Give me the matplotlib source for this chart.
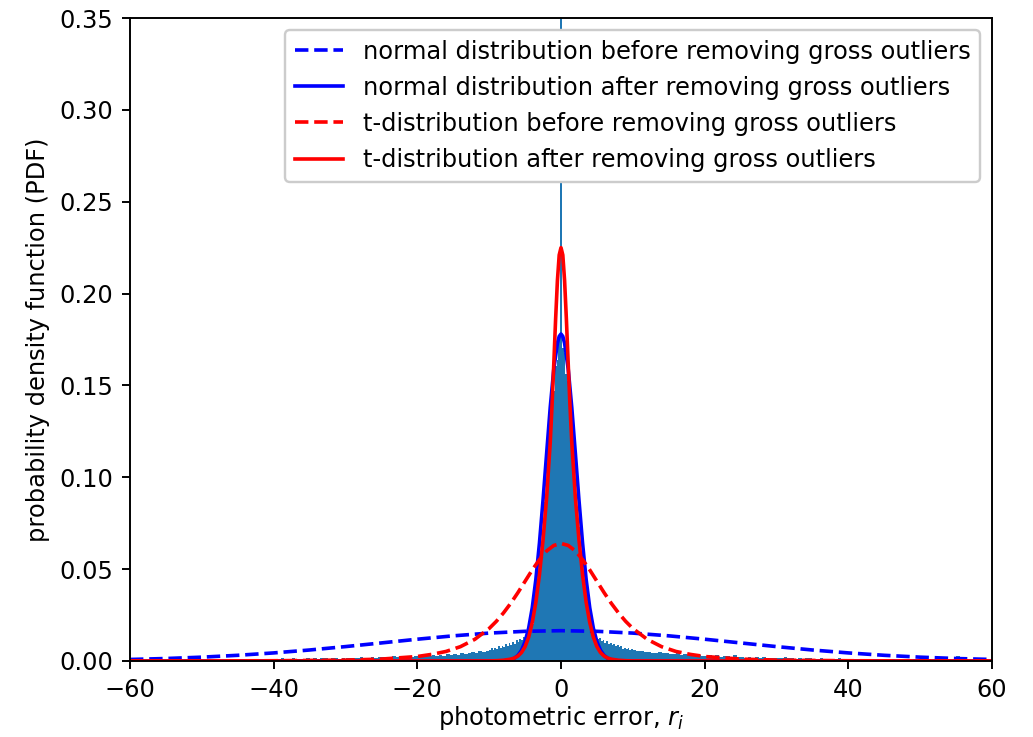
import numpy as np
import matplotlib
matplotlib.use("Agg")
from matplotlib import pyplot as plt

# histogram of photometric errors (density), bins
# tails: 0.5 wide bins from -60 to -10 and 10 to 60, heights in units of 1e-4
tail_left_e4 = [5, 7, 4, 6, 8, 5, 6, 3, 7, 6,
                7, 5, 8, 6, 4, 9, 7, 6, 8, 5,
                8, 6, 9, 7, 10, 5, 8, 9, 6, 11,
                9, 12, 7, 10, 8, 11, 13, 9, 10, 12,
                11, 9, 14, 12, 10, 15, 11, 13, 12, 16,
                13, 15, 11, 17, 14, 12, 18, 15, 13, 16,
                17, 14, 19, 16, 21, 15, 18, 22, 17, 20,
                20, 23, 18, 25, 21, 19, 26, 22, 24, 28,
                27, 24, 30, 26, 33, 29, 31, 28, 36, 33,
                38, 35, 42, 39, 44, 47, 41, 52, 49, 56]
tail_right_e4 = [58, 52, 55, 48, 50, 46, 43, 47, 41, 44,
                 40, 37, 42, 35, 38, 33, 36, 31, 34, 29,
                 28, 32, 26, 30, 24, 27, 25, 23, 32, 22,
                 21, 19, 23, 18, 20, 17, 22, 19, 16, 18,
                 17, 15, 20, 16, 14, 13, 17, 12, 15, 14,
                 13, 12, 14, 11, 13, 10, 12, 14, 11, 10,
                 11, 9, 12, 10, 8, 11, 9, 10, 12, 8,
                 9, 8, 10, 7, 9, 11, 8, 7, 9, 8,
                 8, 7, 9, 6, 8, 7, 10, 6, 8, 7,
                 28, 7, 6, 8, 5, 7, 6, 9, 5, 7]
# centre: 81 bins between -10 and 10 (spike bin in the middle)
centre = [.0058, .0069, .0061, .0073, .0066, .0079, .0071, .0083, .0076, .0090,
          .0082, .0097, .0088, .0104, .0095, .0112, .0103, .0121, .0114, .0131,
          .0128, .0152, .0151, .0189, .0204, .0266, .0297, .0405, .0462, .0612,
          .0690, .0865, .0948, .1138, .1221, .1408, .1472, .1605, .1638, .1745,
          .62,
          .1702, .1679, .1561, .1523, .1356, .1274, .1089, .0993, .0821, .0728,
          .0571, .0497, .0378, .0322, .0248, .0223, .0172, .0166, .0139, .0142,
          .0119, .0127, .0110, .0116, .0099, .0107, .0092, .0099, .0086, .0091,
          .0080, .0085, .0074, .0079, .0068, .0073, .0064, .0069, .0060, .0065]

# fitted curves
x_norm_before = [-60, -55, -50, -45, -40, -35, -30, -25, -20, -15, -10, -5, 0,
                 5, 10, 15, 20, 25, 30, 35, 40, 45, 50, 55, 60]
y_norm_before = [.00084, .00135, .00209, .0031, .0044, .00599, .00784, .00984, .01186, .0137, .01519, .01616, .0165,
                 .01616, .01519, .0137, .01186, .00984, .00784, .00599, .0044, .0031, .00209, .00135, .00084]

x_norm_after = [-60, -10, -8, -7, -6.5, -6, -5.5, -5, -4.5, -4, -3.5, -3, -2.5, -2, -1.5, -1, -0.5, -0.25, 0,
                0.25, 0.5, 1, 1.5, 2, 2.5, 3, 3.5, 4, 4.5, 5, 5.5, 6, 6.5, 7, 8, 10, 60]
y_norm_after = [0, 0, .0001, .0007, .0015, .0030, .0058, .0105, .0179, .0290, .0444, .0642, .0876, .113, .138, .159, .173, .1767, .178,
                .1767, .173, .159, .138, .113, .0876, .0642, .0444, .0290, .0179, .0105, .0058, .0030, .0015, .0007, .0001, 0, 0]

x_t_before = [-60, -50, -40, -30, -25, -20, -18, -16, -14, -12, -10, -9, -8, -7, -6, -5, -4, -3, -2, -1, 0,
              1, 2, 3, 4, 5, 6, 7, 8, 9, 10, 12, 14, 16, 18, 20, 25, 30, 40, 50, 60]
y_t_before = [.00002, .00005, .00014, .00049, .00104, .00245, .0036, .0052, .0078, .0118, .0177, .0216, .0262, .0314, .0372, .0434,
              .0496, .0552, .0599, .0629, .064,
              .0629, .0599, .0552, .0496, .0434, .0372, .0314, .0262, .0216, .0177, .0118, .0078, .0052, .0036, .00245,
              .00104, .00049, .00014, .00005, .00002]

x_t_after = [-60, -10, -9, -8, -7, -6.5, -6, -5.5, -5, -4.5, -4, -3.5, -3, -2.5, -2, -1.5, -1.25, -1, -0.75, -0.5, -0.25, 0,
             0.25, 0.5, 0.75, 1, 1.25, 1.5, 2, 2.5, 3, 3.5, 4, 4.5, 5, 5.5, 6, 6.5, 7, 8, 9, 10, 60]
y_t_after = [0, .00005, .00015, .0004, .001, .0016, .0027, .0046, .0078, .013, .021, .032, .047, .066, .089, .119, .139, .162, .186, .207, .221, .225,
             .221, .207, .186, .162, .139, .119, .089, .066, .047, .032, .021, .013, .0078, .0046, .0027, .0016, .001, .0004, .00015, .00005, 0]

edges = np.concatenate([np.arange(-60, -10, 0.5), np.linspace(-10, 10, 82), np.arange(10.5, 60.01, 0.5)])
heights = np.concatenate([np.array(tail_left_e4) * 1e-4, centre, np.array(tail_right_e4) * 1e-4])

fig = plt.figure(figsize=(1033 / 174, 737 / 174), dpi=174)
ax = fig.add_axes([130 / 1033, 76 / 737, 862 / 1033, 643 / 737])

ax.hist(edges[:-1], bins=edges, weights=heights, color='C0')
ax.plot(x_norm_before, y_norm_before, 'b--', label='normal distribution before removing gross outliers')
ax.plot(x_norm_after, y_norm_after, 'b-', label='normal distribution after removing gross outliers')
ax.plot(x_t_before, y_t_before, 'r--', label='t-distribution before removing gross outliers')
ax.plot(x_t_after, y_t_after, 'r-', label='t-distribution after removing gross outliers')

ax.set_xlim(-60, 60)
ax.set_ylim(0, 0.35)
ax.set_xlabel('photometric error, $r_i$', labelpad=1)
ax.set_ylabel('probability density function (PDF)')
ax.legend(loc='upper right', framealpha=1)

fig.savefig('out.png', dpi=174)
